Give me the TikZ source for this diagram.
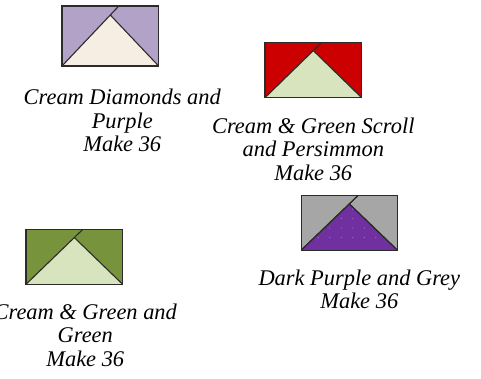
\documentclass[tikz,border=0pt]{standalone}
\usepackage{fontspec}
\setmainfont{Liberation Serif}
\usetikzlibrary{positioning, calc}
\definecolor{lavender}{HTML}{B3A2C7}
\definecolor{creamPale}{HTML}{F6EDE3}
\definecolor{persimmon}{HTML}{CC0000}
\definecolor{greenPale}{HTML}{D7E4BD}
\definecolor{greenDark}{HTML}{77933C}
\definecolor{greyMid}{HTML}{A6A6A6}
\definecolor{purpleDark}{HTML}{7030A0}
\definecolor{purpleDot}{HTML}{A27DC8}
\definecolor{seamGray}{HTML}{2B2B2B}
\tikzset{
  blockbox/.style={rectangle, inner sep=0pt, outer sep=0pt},
  seam/.style={draw=seamGray, line width=1.1bp, line join=miter},
  blocklabel/.style={inner sep=0pt, align=center,
                     font=\fontsize{22.5}{23.5}\selectfont\itshape},
}
% half-square triangle block drawn over a named box
\newcommand{\hstblock}[3]{%
  \fill[#2] (#1.south west) rectangle (#1.north east);
  \coordinate (#1-apex) at ($(#1.south)!0.85!(#1.north)$);
  \coordinate (#1-tip) at ($(#1.south west)!1.1765!(#1-apex)$);
  \fill[#3] (#1.south west) -- (#1-apex) -- (#1.south east) -- cycle;
  \draw[seam] (#1.south west) -- (#1-tip);
  \draw[seam] (#1-apex) -- (#1.south east);
  \draw[seam] (#1.south west) rectangle (#1.north east);
}
\begin{document}
\begin{tikzpicture}[x=1bp, y=-1bp]
    \useasboundingbox (0,0) rectangle (481,378);
    % blocks
    \node[blockbox, minimum width=96.7bp, minimum height=60bp]
          (blkPurple) at (110.3,36) {};
    \node[blockbox, minimum width=96.7bp, minimum height=55.4bp]
          (blkRed) at (313.3,70) {};
    \node[blockbox, minimum width=96bp, minimum height=54.3bp]
          (blkGrey) at (349.3,222.9) {};
    \node[blockbox, minimum width=96.7bp, minimum height=55bp]
          (blkGreen) at (74.3,256.8) {};
    \hstblock{blkPurple}{lavender}{creamPale}
    \hstblock{blkRed}{persimmon}{greenPale}
    \hstblock{blkGreen}{greenDark}{greenPale}
    \hstblock{blkGrey}{greyMid}{purpleDark}
    % dotted print on the dark purple
    \begin{scope}
      \clip (blkGrey.south west) -- (blkGrey-apex) -- (blkGrey.south east) -- cycle;
      \foreach \row in {1,...,5}
        \foreach \col in {0,...,8}
          \fill[purpleDot] ($(blkGrey.south west)+(5.5+11.5*\col,-3-9.5*\row)$) circle (0.6bp);
    \end{scope}
    \draw[seam] (blkGrey.south west) -- (blkGrey-tip);
    \draw[seam] (blkGrey-apex) -- (blkGrey.south east);
    % labels
    \node[blocklabel, below=23bp of blkPurple, xshift=12bp]
          (labPurple) {Cream Diamonds and\\Purple\\Make 36};
    \node[blocklabel, below=20bp of blkRed]
          (labRed) {Cream \& Green Scroll\\and Persimmon\\Make 36};
    \node[blocklabel, below=19.5bp of blkGrey, xshift=10bp]
          (labGrey) {Dark Purple and Grey\\Make 36};
    \node[blocklabel, below=19.5bp of blkGreen, xshift=11bp]
          (labGreen) {Cream \& Green and\\Green\\Make 36};
\end{tikzpicture}
\end{document}
